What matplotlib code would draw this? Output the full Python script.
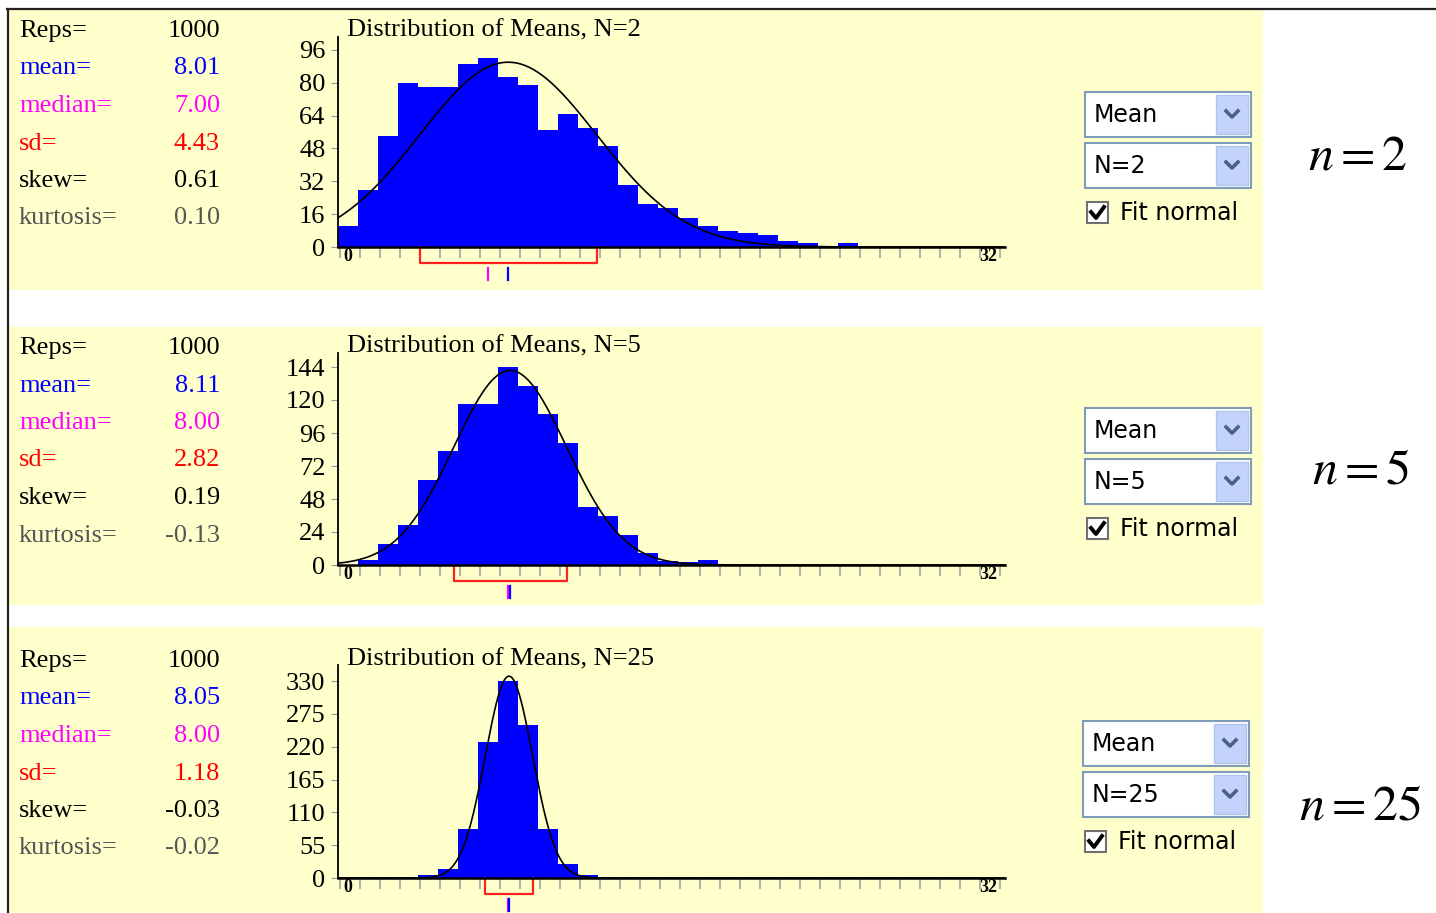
import numpy as np
import matplotlib.pyplot as plt
from matplotlib import transforms
from matplotlib.patches import Rectangle

plt.switch_backend('agg')
plt.rcParams['mathtext.fontset'] = 'stix'

W, H = 1436, 913
SERIF = 'Liberation Serif'
SANS = 'DejaVu Sans'

###
# data
###
sample_sizes = [2, 5, 25]

centers_n2 = list(range(0, 26))
counts_n2 = [10, 28, 54, 80, 78, 78, 89, 92, 83, 79, 57, 65, 58,
             49, 30, 21, 19, 14, 10, 8, 7, 6, 3, 2, 0, 2]
centers_n5 = list(range(0, 19))
counts_n5 = [0, 4, 15, 29, 62, 83, 117, 117, 144, 130, 110, 89, 42,
             36, 22, 9, 3, 2, 4]
centers_n25 = list(range(4, 13))
counts_n25 = [5, 15, 82, 227, 330, 257, 82, 23, 5]

reps = [1000, 1000, 1000]
means = [8.01, 8.11, 8.05]
medians = [7.00, 8.00, 8.00]
sds = [4.43, 2.82, 1.18]
skews = [0.61, 0.19, -0.03]
kurtoses = [0.10, -0.13, -0.02]

yticks_n2 = [0, 16, 32, 48, 64, 80, 96]
yticks_n5 = [0, 24, 48, 72, 96, 120, 144]
yticks_n25 = [0, 55, 110, 165, 220, 275, 330]

centers = [centers_n2, centers_n5, centers_n25]
counts = [counts_n2, counts_n5, counts_n25]
yticks = [yticks_n2, yticks_n5, yticks_n25]

###
# layout (pixels)
###
panel_top = [10, 327, 627]
panel_bot = [290, 605, 913]
ax_top = [37, 353, 665]
ax_bot = [247, 565, 878]
ylab_top = [50, 367, 681]     # pixel row of the highest tick label
stat_row0 = [30, 347, 660]
title_y = [30, 346, 659]
box_left = [1085, 1085, 1083]
box_top = [92, 408, 721]
nlabel_xy = [(1358, 155), (1361, 470), (1360, 806)]

fig = plt.figure(figsize=(W / 100, H / 100), dpi=100)
bg = fig.add_axes([0, 0, 1, 1], zorder=0)
bg.set_xlim(0, W)
bg.set_ylim(H, 0)
bg.axis('off')

# frame lines
bg.plot([7.5, 7.5], [9, H], color='#222222', lw=1.6)
bg.plot([7, W], [9, 9], color='#222222', lw=1.6)

stat_names = ['Reps=', 'mean=', 'median=', 'sd=', 'skew=', 'kurtosis=']
stat_colors = ['#000000', '#0000ff', '#ff00ff', '#ff0000', '#000000', '#555555']

for i, n in enumerate(sample_sizes):
    bg.add_patch(Rectangle((9, panel_top[i]), 1263 - 9, panel_bot[i] - panel_top[i],
                           facecolor='#ffffcc', edgecolor='none'))

    # statistics column
    vals = ['%d' % reps[i], '%.2f' % means[i], '%.2f' % medians[i],
            '%.2f' % sds[i], '%.2f' % skews[i], '%.2f' % kurtoses[i]]
    for k in range(6):
        yy = stat_row0[i] + 37.5 * k + 7
        bg.text(19, yy, stat_names[k], color=stat_colors[k], fontsize=19,
                family=SERIF, va='baseline', ha='left')
        bg.text(220, yy, vals[k], color=stat_colors[k], fontsize=19,
                family=SERIF, va='baseline', ha='right')

    # histogram axes
    l, r, t, b = 338, 1005, ax_top[i], ax_bot[i]
    ax = fig.add_axes([l / W, 1 - b / H, (r - l) / W, (b - t) / H], zorder=2)
    ax.set_facecolor('none')
    ymax = yticks[i][-1] * (b - t) / (b - ylab_top[i])
    ax.set_ylim(0, ymax)
    ax.set_xlim(-0.5, 32.85)
    ax.bar(centers[i], counts[i], width=1.0, color='#0000ff', linewidth=0, zorder=1)

    xs = np.linspace(-0.5, 32.85, 700)
    ys = reps[i] / (sds[i] * np.sqrt(2 * np.pi)) * np.exp(-0.5 * ((xs - means[i]) / sds[i]) ** 2)
    ax.plot(xs, ys, color='black', lw=1.2, zorder=2)

    for s in ['top', 'right']:
        ax.spines[s].set_visible(False)
    ax.spines['bottom'].set_linewidth(1.8)
    ax.spines['left'].set_linewidth(1.3)
    ax.set_yticks(yticks[i])
    ax.set_yticklabels([str(v) for v in yticks[i]], family=SERIF, fontsize=19)
    ax.tick_params(axis='y', length=5, color='#999999', pad=4)
    ax.set_xticks([0, 32])
    ax.set_xticklabels(['0', '32'], family=SERIF, fontsize=13, fontweight='bold')
    ax.tick_params(axis='x', which='major', length=0, pad=1)
    ax.set_xticks(np.arange(-0.4, 33, 1), minor=True)
    ax.tick_params(axis='x', which='minor', length=8, width=1.3, color='#aaaaaa')

    fig.text((l + 9) / W, 1 - title_y[i] / H, 'Distribution of Means, N=%d' % n,
             family=SERIF, fontsize=19, va='center', ha='left')

    # mean +/- sd bracket, median and mean marks
    tr = transforms.blended_transform_factory(ax.transData, bg.transData)
    lo, hi = means[i] - sds[i], means[i] + sds[i]
    yb = b + 16
    ax.plot([lo, lo, hi, hi], [b, yb, yb, b], color='#ff2020', lw=1.6,
            transform=tr, clip_on=False)
    ax.plot([medians[i], medians[i]], [yb + 5, yb + 17], color='#ff00ff', lw=1.6,
            transform=tr, clip_on=False)
    ax.plot([means[i], means[i]], [yb + 5, yb + 17], color='#0000ff', lw=1.6,
            transform=tr, clip_on=False)

    # combo boxes and check box
    bl = box_left[i]
    for j, label in enumerate(['Mean', 'N=%d' % n]):
        bt = box_top[i] + 51 * j
        bg.add_patch(Rectangle((bl, bt), 166, 45, facecolor='white',
                               edgecolor='#7f9db9', lw=1.5))
        bg.add_patch(Rectangle((bl + 131, bt + 3), 32, 39, facecolor='#c3d3fb',
                               edgecolor='#b0c4f0', lw=1))
        cx, cy = bl + 147, bt + 22
        bg.plot([cx - 6, cx, cx + 6], [cy - 3, cy + 3, cy - 3], color='#4d6185', lw=2.6)
        bg.text(bl + 9, bt + 23, label, family=SANS, fontsize=17, va='center', ha='left')
    ct = box_top[i] + 110
    bg.add_patch(Rectangle((bl + 2, ct), 21, 21, facecolor='white',
                           edgecolor='#707070', lw=1.5))
    bg.plot([bl + 6, bl + 11, bl + 19], [ct + 10, ct + 16, ct + 5], color='black', lw=2.8)
    bg.text(bl + 35, ct + 11, 'Fit normal', family=SANS, fontsize=17, va='center', ha='left')

    # n = ... label
    bg.text(nlabel_xy[i][0], nlabel_xy[i][1], r'$n = %d$' % n, fontsize=36,
            ha='center', va='center')

fig.savefig('out.png', dpi=100)
